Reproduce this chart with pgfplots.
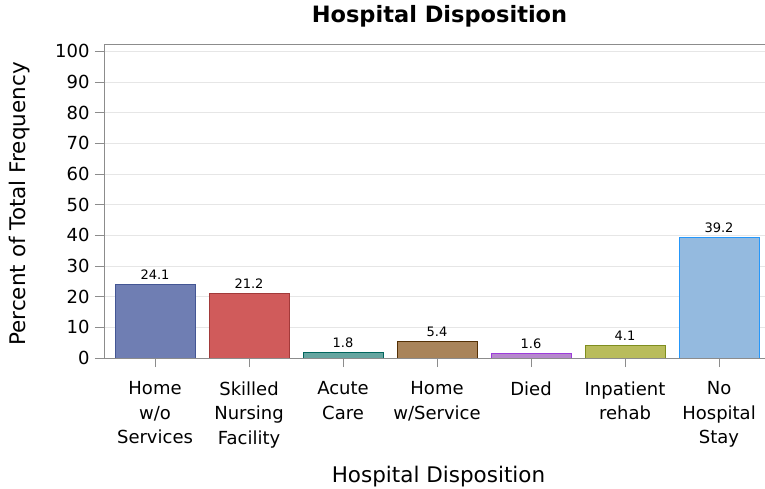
\documentclass[border=0pt]{standalone}
\usepackage{pgfplots}
\pgfplotsset{compat=1.18}
\usepackage{fontspec}
\setmainfont{DejaVu Sans}
\definecolor{axgray}{HTML}{8C8C8C}
\definecolor{gridgray}{HTML}{E6E6E6}
\definecolor{fA}{HTML}{6F7EB3}\definecolor{bA}{HTML}{445694}
\definecolor{fB}{HTML}{D05B5B}\definecolor{bB}{HTML}{A23A3A}
\definecolor{fC}{HTML}{66A5A0}\definecolor{bC}{HTML}{01665E}
\definecolor{fD}{HTML}{A9845A}\definecolor{bD}{HTML}{543005}
\definecolor{fE}{HTML}{B689CD}\definecolor{bE}{HTML}{9D3CDB}
\definecolor{fF}{HTML}{B9BC5C}\definecolor{bF}{HTML}{7F8E1F}
\definecolor{fG}{HTML}{94BADF}\definecolor{bG}{HTML}{2597FA}
\begin{document}
\begin{tikzpicture}[x=1pt,y=1pt]
\begin{axis}[
  at={(0,0)}, anchor=south west,
  scale only axis, width=661pt, height=314pt,
  xmin=-0.543, xmax=6.489, ymin=0, ymax=102.4,
  axis x line=box, axis y line=left,
  axis line style={draw=axgray, line width=0.8pt, -},
  tick style={draw=axgray, line width=0.8pt},
  tick align=outside, major tick length=9pt,
  xtick={0,...,6},
  xticklabels={Home\\w/o\\Services, Skilled\\Nursing\\Facility, Acute\\Care, Home\\w/Service, Died, Inpatient\\rehab, No\\Hospital\\Stay},
  xticklabel style={align=center, font=\fontsize{18}{24.5}\selectfont, text=black, yshift=-11pt},
  ytick={0,10,...,100},
  yticklabel style={font=\fontsize{18}{20}\selectfont, text=black, xshift=-2pt},
  /pgf/number format/assume math mode=true,
  ymajorgrids, grid style={draw=gridgray, line width=0.8pt},
  xtick pos=bottom, ytick pos=left,
  title={Hospital Disposition},
  title style={font=\bfseries\fontsize{22.5}{26}\selectfont, at={(axis description cs:0.5,1)}, anchor=base, yshift=15pt, xshift=5pt},
  xlabel={Hospital Disposition},
  xlabel style={font=\fontsize{21.5}{26}\selectfont, at={(axis description cs:0.5,0)}, anchor=base, yshift=-124pt, xshift=4pt},
  ylabel={Percent of Total Frequency},
  ylabel style={font=\fontsize{21.5}{26}\selectfont, at={(axis description cs:0,0.5)}, anchor=center, yshift=84pt, xshift=-3pt},
  ybar, bar width=80pt, bar shift=0pt,
  nodes near coords,
  nodes near coords style={font=\fontsize{13}{15}\selectfont, text=black, yshift=1pt, /pgf/number format/.cd, fixed, precision=1, fixed zerofill, assume math mode=true},
]
\addplot[fill=fA, draw=bA, line width=0.8pt] coordinates {(0,24.1)};
\addplot[fill=fB, draw=bB, line width=0.8pt] coordinates {(1,21.2)};
\addplot[fill=fC, draw=bC, line width=0.8pt] coordinates {(2,1.8)};
\addplot[fill=fD, draw=bD, line width=0.8pt] coordinates {(3,5.4)};
\addplot[fill=fE, draw=bE, line width=0.8pt] coordinates {(4,1.6)};
\addplot[fill=fF, draw=bF, line width=0.8pt] coordinates {(5,4.1)};
\addplot[fill=fG, draw=bG, line width=0.8pt] coordinates {(6,39.2)};
\end{axis}
\pgfresetboundingbox
\path[use as bounding box] (-104,-131) rectangle (661,358);
\end{tikzpicture}
\end{document}
